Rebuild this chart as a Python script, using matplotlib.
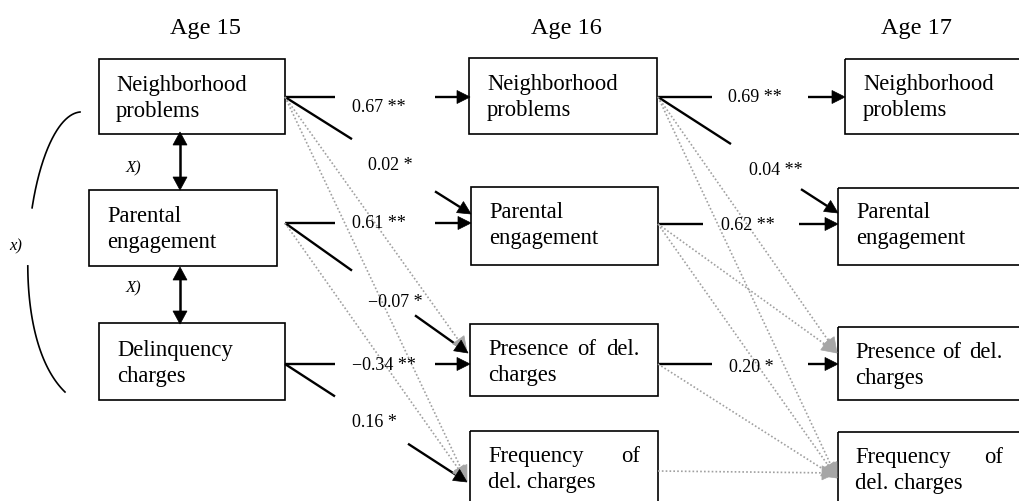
import numpy as np
import matplotlib
matplotlib.use("Agg")
import matplotlib.pyplot as plt
from matplotlib.patches import Rectangle, Polygon

# ---- data: labels and path coefficients ----
ages = ["Age 15", "Age 16", "Age 17"]
coef_15_16 = ["0.67 **", "0.02 *", "0.61 **", "\u22120.07 *", "\u22120.34 **", "0.16 *"]
coef_16_17 = ["0.69 **", "0.04 **", "0.62 **", "0.20 *"]
cov_labels = ["X)", "X)", "x)"]

SERIF = ["Liberation Serif", "DejaVu Serif"]
BOX_FS = 16.3
COEF_FS = 13
W, H = 1019, 502

fig = plt.figure(figsize=(W / 100, H / 100), dpi=100)
ax = fig.add_axes([0, 0, 1, 1])
ax.set_xlim(0, W)
ax.set_ylim(H, 0)
ax.axis("off")


def txt(x, y, s, ha="left", fs=BOX_FS, style="normal"):
    ax.text(x, y, s, ha=ha, va="baseline", fontsize=fs, family=SERIF, style=style)


def box(x0, y0, x1, y1):
    ax.add_patch(Rectangle((x0, y0), x1 - x0, y1 - y0, fill=False, ec="black", lw=1.2))


def head(tip, d, L=13, hw=6.5, color="black"):
    tip = np.asarray(tip, float)
    u = np.asarray(d, float)
    u = u / np.hypot(*u)
    n = np.array([-u[1], u[0]])
    b = tip - u * L
    ax.add_patch(Polygon([tip, b + n * hw, b - n * hw], closed=True, fc=color, ec=color, lw=0.5, zorder=4))
    return b


def solid(s, t, g0, g1, label, lx, ly):
    s, t = np.array(s, float), np.array(t, float)
    d = t - s
    at = lambda x: s + d * (x - s[0]) / d[0]
    p0, p1 = at(g0), at(g1)
    ax.plot([s[0], p0[0]], [s[1], p0[1]], color="black", lw=1.7, solid_capstyle="butt")
    b = head(t, d)
    ax.plot([p1[0], b[0]], [p1[1], b[1]], color="black", lw=1.7, solid_capstyle="butt")
    txt(lx, ly, label, ha="center", fs=COEF_FS)


def dotted(s, t):
    s, t = np.array(s, float), np.array(t, float)
    b = head(t, t - s, L=15, hw=7, color="#a6a6a6")
    ax.plot([s[0], b[0]], [s[1], b[1]], color="#a0a0a0", lw=1.2, ls=(0, (1, 1.3)), zorder=3)


# ---- titles ----
txt(206, 34, ages[0], ha="center", fs=17.5)
txt(566, 34, ages[1], ha="center", fs=17.5)
txt(917, 34, ages[2], ha="center", fs=17.5)

# ---- Age 15 boxes ----
box(99, 60, 285, 135)
txt(116, 91, "Neighborhood"); txt(116, 117, "problems")
box(89, 191, 277, 267)
txt(107, 222, "Parental"); txt(107, 248, "engagement")
box(99, 324, 285, 401)
txt(117, 356, "Delinquency"); txt(117, 382, "charges")

# ---- Age 16 boxes ----
box(469, 59, 657, 135)
txt(487, 90, "Neighborhood"); txt(487, 116, "problems")
box(471, 188, 658, 266)
txt(489, 218, "Parental"); txt(489, 244, "engagement")
box(470, 325, 658, 397)
txt(488, 355, "Presence"); txt(587, 355, "of", ha="center"); txt(640, 355, "del.", ha="right")
txt(488, 381, "charges")
box(470, 432, 658, 512)
txt(488, 462, "Frequency"); txt(640, 462, "of", ha="right")
txt(488, 488, "del. charges")

# ---- Age 17 boxes (cut at right edge) ----
box(845, 60, 1030, 135)
txt(863, 90, "Neighborhood"); txt(863, 116, "problems")
box(838, 189, 1030, 266)
txt(856, 218, "Parental"); txt(856, 244, "engagement")
box(838, 328, 1030, 401)
txt(855, 358, "Presence"); txt(952, 358, "of", ha="center"); txt(1003, 358, "del.", ha="right")
txt(855, 384, "charges")
box(838, 433, 1030, 512)
txt(855, 463, "Frequency"); txt(1003, 463, "of", ha="right")
txt(855, 489, "del. charges")

# ---- within-time covariances ----
for y0, y1 in [(133, 191), (268, 325)]:
    ax.plot([180, 180], [y0 + 12, y1 - 12], color="black", lw=1.8)
    head((180, y0), (0, -1), L=13, hw=7)
    head((180, y1), (0, 1), L=13, hw=7)
ax.text(133, 172, cov_labels[0], ha="center", va="baseline", fontsize=12, family=SERIF, style="italic")
ax.text(133, 292, cov_labels[1], ha="center", va="baseline", fontsize=12, family=SERIF, style="italic")

# bracket on the left
P = np.array([[80, 113], [30, 118], [0, 330], [65, 393]], float)
tt = np.linspace(0, 1, 300)[:, None]
bz = ((1 - tt) ** 3) * P[0] + 3 * ((1 - tt) ** 2) * tt * P[1] + 3 * (1 - tt) * tt ** 2 * P[2] + tt ** 3 * P[3]
top = bz[bz[:, 1] < 210]
bot = bz[bz[:, 1] > 266]
ax.plot(top[:, 0], top[:, 1], color="black", lw=1.2)
ax.plot(bot[:, 0], bot[:, 1], color="black", lw=1.2)
ax.text(16, 250, cov_labels[2], ha="center", va="baseline", fontsize=12, family=SERIF, style="italic")

# ---- non-significant paths (dotted grey) ----
dotted((285, 98), (467, 353))
dotted((285, 98), (467, 482))
dotted((285, 224), (467, 482))
dotted((658, 98), (837, 354))
dotted((658, 98), (837, 479))
dotted((658, 225), (837, 354))
dotted((658, 225), (837, 479))
dotted((658, 365), (837, 479))
dotted((658, 472), (837, 474))

# ---- significant paths 15 -> 16 ----
solid((285, 98), (470, 98), 335, 435, coef_15_16[0], 379, 112)
solid((285, 98), (471, 215), 352, 435, coef_15_16[1], 390, 170)
solid((285, 224), (471, 224), 335, 435, coef_15_16[2], 379, 228)
solid((285, 224), (468, 354), 352, 415, coef_15_16[3], 395, 307)
solid((285, 365), (470, 365), 335, 435, coef_15_16[4], 384, 370)
solid((285, 365), (467, 483), 335, 408, coef_15_16[5], 374, 427)

# ---- significant paths 16 -> 17 ----
solid((658, 98), (845, 98), 712, 808, coef_16_17[0], 755, 102)
solid((658, 98), (838, 214), 731, 801, coef_16_17[1], 776, 175)
solid((658, 225), (838, 225), 703, 799, coef_16_17[2], 748, 230)
solid((658, 365), (838, 365), 712, 808, coef_16_17[3], 751, 372)

fig.savefig("out.png", dpi=100, facecolor="white")
